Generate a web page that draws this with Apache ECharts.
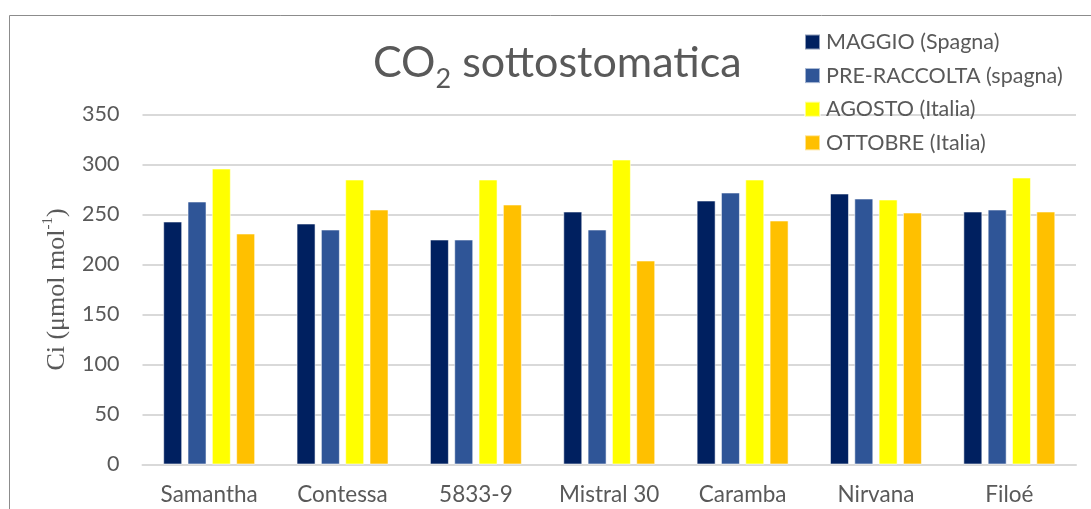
<!DOCTYPE html>
<html>
<head>
<meta charset="utf-8">
<script src="https://cdn.jsdelivr.net/npm/echarts@6/dist/echarts.min.js"></script>
<style>
  html, body { margin: 0; padding: 0; background: #ffffff; }
  #chart { width: 1091px; height: 509px; }
</style>
</head>
<body>
<div id="chart"></div>
<script>
// Varieties on the category axis
const varieties = ['Samantha', 'Contessa', '5833-9', 'Mistral 30', 'Caramba', 'Nirvana', 'Filoé'];

// Sampling periods (legend entries)
const periods = ['MAGGIO (Spagna)', 'PRE-RACCOLTA (spagna)', 'AGOSTO (Italia)', 'OTTOBRE (Italia)'];

// Sub-stomatal CO2 (Ci, µmol mol-1) per variety, one array per period
const maggio      = [243, 241, 225, 253, 264, 271, 253];
const preRaccolta = [263, 235, 225, 235, 272, 266, 255];
const agosto      = [296, 285, 285, 305, 285, 265, 287];
const ottobre     = [231, 255, 260, 204, 244, 252, 253];

// Value axis ticks
const yTicks = [0, 50, 100, 150, 200, 250, 300, 350];

const seriesValues = [maggio, preRaccolta, agosto, ottobre];
const seriesColors = ['#002060', '#2F5597', '#FFFF00', '#FFC000'];

const textGrey = '#595959';
const uiFont = 'Lato, "Open Sans", "Noto Sans", sans-serif';
const serifFont = '"Liberation Serif", "DejaVu Serif", serif';

const chart = echarts.init(document.getElementById('chart'), null, { renderer: 'canvas' });

chart.setOption({
  backgroundColor: '#ffffff',
  animation: false,
  graphic: [{
    // chart-area frame (top and left edges visible)
    type: 'rect',
    shape: { x: 9.5, y: 15.5, width: 1200, height: 700 },
    style: { fill: 'none', stroke: '#8c8c8c', lineWidth: 1 },
    silent: true,
    z: -1
  }],
  title: {
    text: '{a|CO}{b|2}{a| sottostomatica}',
    left: 368,
    top: 37,
    textStyle: {
      fontWeight: 'normal',
      rich: {
        a: { fontFamily: uiFont, fontSize: 43, fontWeight: 'normal', color: textGrey, lineHeight: 54, verticalAlign: 'top' },
        b: { fontFamily: uiFont, fontSize: 27, fontWeight: 'normal', color: textGrey, lineHeight: 54, verticalAlign: 'top', padding: [24, 0, 0, 0] }
      }
    }
  },
  legend: {
    data: periods,
    orient: 'vertical',
    left: 799,
    top: 26,
    itemWidth: 15,
    itemHeight: 15,
    itemGap: 11.6,
    icon: 'rect',
    textStyle: { fontFamily: uiFont, fontSize: 21.5, color: textGrey, lineHeight: 15, padding: [0, 0, 0, 1] }
  },
  grid: {
    left: 142.5,
    right: 15,
    top: 114.5,
    bottom: 44.5,
    containLabel: false
  },
  xAxis: {
    type: 'category',
    data: varieties,
    axisLine: { show: true, lineStyle: { color: '#d9d9d9', width: 2 } },
    axisTick: { show: false },
    axisLabel: { fontFamily: uiFont, fontSize: 22.5, color: textGrey, margin: 19 }
  },
  yAxis: {
    type: 'value',
    min: yTicks[0],
    max: yTicks[yTicks.length - 1],
    interval: yTicks[1] - yTicks[0],
    name: '{a|Ci (μmol mol}{s|-1}{a|)}',
    nameLocation: 'middle',
    nameGap: 72,
    nameRotate: 90,
    nameTextStyle: {
      rich: {
        a: { fontFamily: serifFont, fontSize: 26, color: textGrey, lineHeight: 30, verticalAlign: 'bottom' },
        s: { fontFamily: serifFont, fontSize: 15, color: textGrey, lineHeight: 30, verticalAlign: 'top', padding: [0, 0, 11, 0] }
      }
    },
    axisLine: { show: false },
    axisTick: { show: false },
    axisLabel: { fontFamily: uiFont, fontSize: 21.5, color: textGrey, margin: 23 },
    splitLine: { show: true, lineStyle: { color: '#d9d9d9', width: 2 } }
  },
  series: periods.map((name, i) => ({
    name: name,
    type: 'bar',
    data: seriesValues[i],
    barWidth: 19,
    barGap: '28%',
    itemStyle: {
      color: seriesColors[i],
      borderColor: 'rgba(255,255,255,0.55)',
      borderWidth: 1
    }
  }))
});
</script>
</body>
</html>
